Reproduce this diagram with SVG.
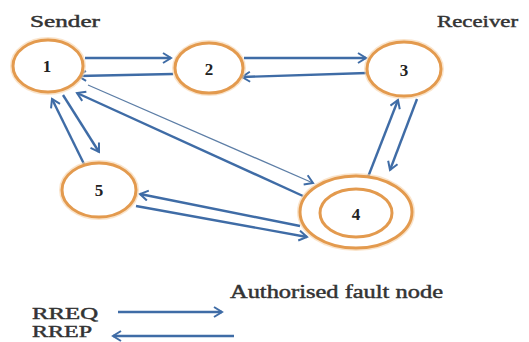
<svg xmlns="http://www.w3.org/2000/svg" width="529" height="342" viewBox="0 0 529 342">
  <style>
    .node { fill: #ffffff; stroke: #e39a4e; stroke-width: 3; }
    .glow { fill: none; stroke: #f6d2a8; stroke-width: 6; opacity: 0.6; }
    .lbl { font-family: "Liberation Serif", "DejaVu Serif", serif; fill: #333; stroke: #333; stroke-width: 0.45; }
    .num { font-family: "Liberation Serif", "DejaVu Serif", serif; font-size: 17px; font-weight: bold; fill: #222; text-anchor: middle; }
    .link { fill: none; stroke: #3f6ca6; stroke-width: 2.4; marker-end: url(#head); }
    .thin { fill: none; stroke: #5d7ea6; stroke-width: 1.3; marker-end: url(#head); }
  </style>
  <defs>
    <marker id="head" markerUnits="userSpaceOnUse" markerWidth="14" markerHeight="14" refX="9" refY="6" orient="auto">
      <path d="M1,1 L9,6 L1,11" fill="none" stroke="#3f6ca6" stroke-width="2"/>
    </marker>
  </defs>
  <rect width="529" height="342" fill="#ffffff"/>

  <text class="lbl" x="30" y="27" font-size="17" textLength="70" lengthAdjust="spacingAndGlyphs">Sender</text>
  <text class="lbl" x="437" y="27" font-size="17" textLength="81" lengthAdjust="spacingAndGlyphs">Receiver</text>

  <g id="connectors">
    <line class="link" x1="85" y1="58" x2="171" y2="58"/>
    <line class="link" x1="173" y1="74" x2="78" y2="76"/>
    <line class="link" x1="244" y1="58" x2="366" y2="58"/>
    <line class="link" x1="367" y1="73" x2="242" y2="77"/>
    <line class="link" x1="84" y1="164" x2="52" y2="99"/>
    <line class="link" x1="63" y1="95" x2="99" y2="152"/>
    <line class="thin" x1="88" y1="85" x2="313" y2="183"/>
    <line class="link" x1="303" y1="196" x2="77" y2="93"/>
    <line class="link" x1="300" y1="226" x2="140" y2="194"/>
    <line class="link" x1="136" y1="206" x2="307" y2="237"/>
    <line class="link" x1="368" y1="177" x2="398" y2="100"/>
    <line class="link" x1="417" y1="99" x2="390" y2="170"/>
  </g>

  <g id="node1">
    <ellipse class="glow" cx="48" cy="66" rx="35" ry="26"/>
    <ellipse class="node" cx="48" cy="66" rx="35" ry="26"/>
    <text class="num" x="47" y="72">1</text>
  </g>
  <g id="node2">
    <ellipse class="glow" cx="209" cy="68" rx="34" ry="25"/>
    <ellipse class="node" cx="209" cy="68" rx="34" ry="25"/>
    <text class="num" x="209" y="75">2</text>
  </g>
  <g id="node3">
    <ellipse class="glow" cx="404" cy="69" rx="37" ry="27"/>
    <ellipse class="node" cx="404" cy="69" rx="37" ry="27"/>
    <text class="num" x="404" y="76" font-family="Liberation Sans, sans-serif">3</text>
  </g>
  <g id="node5">
    <ellipse class="glow" cx="99" cy="190" rx="37" ry="27"/>
    <ellipse class="node" cx="99" cy="190" rx="37" ry="27"/>
    <text class="num" x="99" y="196" font-weight="normal">5</text>
  </g>
  <g id="node4">
    <ellipse class="glow" cx="356" cy="212" rx="56" ry="36"/>
    <ellipse class="node" cx="356" cy="212" rx="56" ry="36"/>
    <ellipse class="node" cx="356" cy="213" rx="36" ry="24"/>
    <text class="num" x="356" y="220" font-family="Liberation Sans, sans-serif">4</text>
  </g>

  <g id="legend">
    <text class="lbl" x="230" y="298" font-size="18" textLength="213" lengthAdjust="spacingAndGlyphs">Authorised fault node</text>
    <text class="lbl" x="32" y="319" font-size="16" textLength="66" lengthAdjust="spacingAndGlyphs">RREQ</text>
    <text class="lbl" x="32" y="337" font-size="16" textLength="60" lengthAdjust="spacingAndGlyphs">RREP</text>
    <line class="link" x1="118" y1="312" x2="222" y2="312"/>
    <line class="link" x1="234" y1="336" x2="113" y2="336"/>
  </g>
</svg>
